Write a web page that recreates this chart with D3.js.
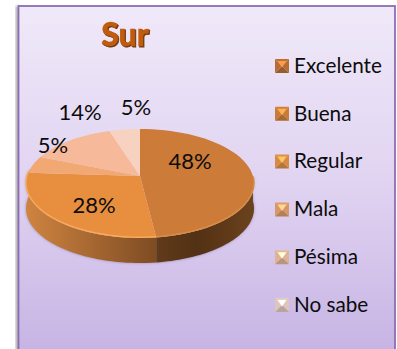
<!DOCTYPE html>
<html>
<head>
<meta charset="utf-8">
<script src="https://cdn.jsdelivr.net/npm/d3@7"></script>
<style>
  html, body { margin: 0; padding: 0; background: #fff; overflow: hidden; }
  text { font-family: Lato, "Open Sans", sans-serif; fill: #0c0c0c; }
</style>
</head>
<body>
<div id="chart"></div>
<script>
"use strict";

// values
var categories = ["Excelente", "Buena", "Regular", "Mala", "Pésima", "No sabe"];
var sliceValues = [48, 28, 5, 14, 5];
var sliceLabels = ["48%", "28%", "5%", "14%", "5%"];
var sliceColors = ["#cc7b38", "#e88f3f", "#f2a873", "#f6b999", "#f8d2c0"];
var legendColors = ["#c9793a", "#e08a3e", "#ee9a4c", "#f0a873", "#f6c6a6", "#f7dccf"];
var labelSpots = [[190, 169], [94, 213], [53, 153], [80, 120], [136, 115]];

var width = 397, height = 349;

var svg = d3.select("#chart").append("svg")
  .attr("width", width)
  .attr("height", height);

var defs = svg.append("defs");

// panel background
var bgGrad = defs.append("linearGradient").attr("id", "bg")
  .attr("x1", 0).attr("y1", 0).attr("x2", 0).attr("y2", 1);
bgGrad.append("stop").attr("offset", "0%").attr("stop-color", "#f0e9f9");
bgGrad.append("stop").attr("offset", "50%").attr("stop-color", "#e0d3f1");
bgGrad.append("stop").attr("offset", "100%").attr("stop-color", "#c5b1e3");

defs.append("filter").attr("id", "soft")
  .attr("x", "-20%").attr("y", "-20%").attr("width", "140%").attr("height", "140%")
  .append("feGaussianBlur").attr("stdDeviation", 1.6);

defs.append("filter").attr("id", "blur1")
  .append("feGaussianBlur").attr("stdDeviation", 0.5);

// gray shadow left of the panel
svg.append("rect")
  .attr("x", 16).attr("y", 6).attr("width", 3).attr("height", height)
  .attr("fill", "#999").attr("filter", "url(#soft)");

svg.append("rect")
  .attr("x", 18.5).attr("y", 6).attr("width", 376.5).attr("height", height + 10)
  .attr("fill", "url(#bg)")
  .attr("stroke", "#8c6db4")
  .attr("stroke-width", 1.8);

// title
var title = svg.append("g").attr("text-anchor", "middle")
  .attr("filter", "url(#blur1)")
  .style("font-size", "32px").style("font-weight", 900);
title.append("text").attr("x", 126).attr("y", 47)
  .style("fill", "#6e3710").style("stroke", "#6e3710").style("stroke-width", 0.8).text("Sur");
title.append("text").attr("x", 125).attr("y", 45.5)
  .style("fill", "#c25c0e").style("stroke", "#c25c0e").style("stroke-width", 0.4).text("Sur");

// pie geometry: rim is an ellipse, the slices meet at a point above its centre
var rimX = 140, rimY = 183.5, rx = 114, ry = 54.5, tipY = 176, depth = 25;

function rimPoint(a) {
  var dx = rx * Math.sin(a), dy = -ry * Math.cos(a);
  var oy = tipY - rimY;
  var A = dx * dx / (rx * rx) + dy * dy / (ry * ry);
  var B = 2 * oy * dy / (ry * ry);
  var C = oy * oy / (ry * ry) - 1;
  var t = (-B + Math.sqrt(B * B - 4 * A * C)) / (2 * A);
  return [rimX + t * dx, tipY + t * dy];
}

var arcs = d3.pie().sort(null)(sliceValues);
var line = d3.line();

function rimRun(a0, a1) {
  return d3.range(0, 49).map(function(i) { return rimPoint(a0 + (a1 - a0) * i / 48); });
}

// the wall, built from the front part of the rim
function wallPath(a0, a1) {
  var top = rimRun(a0, a1);
  var bottom = top.map(function(p) { return [p[0], p[1] + depth]; }).reverse();
  return line(top.concat(bottom)) + "Z";
}

var leftAngle = arcs[1].endAngle;
var wallLeft = defs.append("linearGradient").attr("id", "wallLeft")
  .attr("gradientUnits", "userSpaceOnUse")
  .attr("x1", 26).attr("y1", 0).attr("x2", 160).attr("y2", 0);
wallLeft.append("stop").attr("offset", "0%").attr("stop-color", "#cf8440");
wallLeft.append("stop").attr("offset", "100%").attr("stop-color", "#7c4a22");

var wallRight = defs.append("linearGradient").attr("id", "wallRight")
  .attr("gradientUnits", "userSpaceOnUse")
  .attr("x1", 159).attr("y1", 0).attr("x2", 254).attr("y2", 0);
wallRight.append("stop").attr("offset", "0%").attr("stop-color", "#5f3a1b");
wallRight.append("stop").attr("offset", "40%").attr("stop-color", "#533114");
wallRight.append("stop").attr("offset", "100%").attr("stop-color", "#6b421d");

var angleRight = Math.PI / 2 + 0.12;
var angleLeft = Math.PI * 1.5 + 0.13;

// soft outline under the wall
svg.append("path")
  .attr("d", wallPath(angleRight - 0.12, angleLeft))
  .attr("fill", "#6d5a80")
  .attr("opacity", 0.55)
  .attr("filter", "url(#soft)");

svg.append("path")
  .attr("d", wallPath(angleRight - 0.12, arcs[0].endAngle))
  .attr("fill", "url(#wallRight)");
svg.append("path")
  .attr("d", wallPath(arcs[0].endAngle, angleLeft))
  .attr("fill", "url(#wallLeft)");

// top face
svg.append("g").selectAll("path")
  .data(arcs)
  .join("path")
    .attr("d", function(d) {
      return line([[rimX, tipY]].concat(rimRun(d.startAngle, d.endAngle))) + "Z";
    })
    .attr("fill", function(d, i) { return sliceColors[i]; });

// bevel highlight along the front edge
svg.append("path")
  .attr("d", line(rimRun(arcs[0].endAngle, leftAngle).map(function(p) { return [p[0], p[1] - 0.8]; })))
  .attr("fill", "none")
  .attr("stroke", "#f8aa5e")
  .attr("stroke-width", 1.4)
  .attr("filter", "url(#blur1)");
svg.append("path")
  .attr("d", line(rimRun(angleRight - 0.1, arcs[0].endAngle).map(function(p) { return [p[0], p[1] - 0.8]; })))
  .attr("fill", "none")
  .attr("stroke", "#d98d48")
  .attr("stroke-width", 1.4)
  .attr("filter", "url(#blur1)");

// slice labels
svg.append("g").selectAll("text")
  .data(sliceLabels)
  .join("text")
    .attr("x", function(d, i) { return labelSpots[i][0]; })
    .attr("y", function(d, i) { return labelSpots[i][1]; })
    .attr("text-anchor", "middle")
    .style("font-size", "22px")
    .text(function(d) { return d; });

// legend, squares shaded like little pyramids
var legendY = d3.scalePoint().domain(categories).range([66, 305]);
var box = 14;

var legend = svg.append("g").selectAll("g")
  .data(categories)
  .join("g")
    .attr("transform", function(d) { return "translate(275," + legendY(d) + ")"; });

function tri(pts) { return line(pts) + "Z"; }
var h = box / 2;

legend.each(function(d, i) {
  var g = d3.select(this);
  var base = d3.color(legendColors[i]);
  // top, right, bottom, left facets and a bright middle
  var facets = [
    { p: [[0, -h], [box, -h], [h, 0]], c: base.darker(0.2) },
    { p: [[box, -h], [box, h], [h, 0]], c: base.darker(0.3) },
    { p: [[0, h], [box, h], [h, 0]], c: base.darker(0.8) },
    { p: [[0, -h], [0, h], [h, 0]], c: base.darker(0.3) },
    { p: [[2.5, -h + 2], [box - 2.5, -h + 2], [h, 1.5]], c: base.brighter(0.7) }
  ];
  g.append("g").attr("filter", "url(#blur1)")
    .selectAll("path").data(facets).join("path")
    .attr("d", function(f) { return tri(f.p); })
    .attr("fill", function(f) { return f.c; });
  g.append("text")
    .attr("x", 19)
    .attr("y", 6.7)
    .style("font-size", "20.7px")
    .text(d);
});
</script>
</body>
</html>
